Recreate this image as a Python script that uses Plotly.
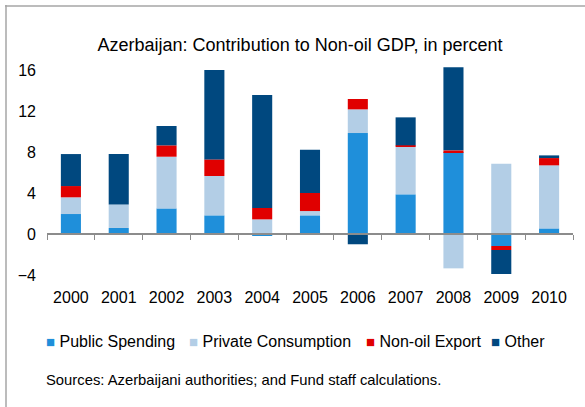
import plotly.graph_objects as go

years = ["2000", "2001", "2002", "2003", "2004", "2005", "2006", "2007", "2008", "2009", "2010"]
public_spending = [1.95, 0.59, 2.50, 1.82, -0.15, 1.82, 9.85, 3.87, 8.00, -1.17, 0.55]
private_consumption = [1.63, 2.30, 5.04, 3.84, 1.43, 0.42, 2.31, 4.65, -3.35, 6.86, 6.15]
non_oil_export = [1.10, 0.0, 1.11, 1.62, 1.11, 1.76, 1.01, 0.13, 0.16, -0.39, 0.71]
other = [3.12, 4.91, 1.89, 8.72, 11.02, 4.23, -1.00, 2.73, 8.10, -2.34, 0.26]
y_ticks = [-4, 0, 4, 8, 12, 16]

series = [
    ("Public Spending", public_spending, "#1F8FDA"),
    ("Private Consumption", private_consumption, "#B3CEE6"),
    ("Non-oil Export", non_oil_export, "#E00000"),
    ("Other", other, "#00487F"),
]

W, H = 585, 407
L, R, T, B = 47, 12, 62, 129
ymin, ymax = -4.29, 16.78
FONT = "Liberation Sans, Arial, sans-serif"

fig = go.Figure()
for name, vals, col in series:
    fig.add_trace(go.Bar(x=years, y=vals, name=name, marker_color=col,
                         marker_line_width=0, showlegend=False))

pw, ph = W - L - R, H - T - B
def px_x(p):
    return (p - L) / pw
def px_y(p):
    return (H - B - p) / ph

zero_pos = (0 - ymin) / (ymax - ymin)

fig.update_layout(
    width=W, height=H,
    margin=dict(l=L, r=R, t=T, b=B, autoexpand=False),
    barmode="relative",
    bargap=0.58,
    plot_bgcolor="white", paper_bgcolor="white",
    font=dict(family=FONT, color="#000000", size=15),
    title=dict(text="Azerbaijan: Contribution to Non-oil GDP, in percent",
               x=300 / W, xanchor="center", y=1 - 45 / H, yanchor="middle",
               font=dict(size=18, family=FONT, color="#000000")),
    xaxis=dict(type="category", anchor="free", position=zero_pos, automargin=False,
               showline=True, linecolor="#8C8C8C", linewidth=2,
               ticks="outside", tickson="boundaries", ticklen=5, tickcolor="#8C8C8C", tickwidth=1,
               ticklabelstandoff=49, tickfont=dict(size=16), showgrid=False,
               range=[-0.5, 10.5]),
    yaxis=dict(range=[ymin, ymax], tickvals=y_ticks, showgrid=False, zeroline=False, automargin=False,
               showline=False, ticks="", tickfont=dict(size=16), ticklabelstandoff=10),
)

# Legend built as annotations
legend_items = [(44, "Public Spending", "#1F8FDA"), (187, "Private Consumption", "#B3CEE6"),
                (364, "Non-oil Export", "#E00000"), (489, "Other", "#00487F")]
for xp, name, col in legend_items:
    fig.add_annotation(xref="paper", yref="paper", x=px_x(xp), y=px_y(341),
                       xanchor="left", yanchor="middle", showarrow=False,
                       text=f'<span style="color:{col};font-size:15px">■</span> {name}',
                       font=dict(size=16, family=FONT))

fig.add_annotation(xref="paper", yref="paper", x=px_x(44), y=px_y(380),
                   xanchor="left", yanchor="middle", showarrow=False,
                   text="Sources: Azerbaijani authorities; and Fund staff calculations.",
                   font=dict(size=14.8, family=FONT))

# outer frame (left and top edges visible)
fig.add_shape(type="line", xref="paper", yref="paper", x0=px_x(6), x1=px_x(6),
              y0=px_y(5), y1=px_y(410), line=dict(color="#A6A6A6", width=1.5))
fig.add_shape(type="line", xref="paper", yref="paper", x0=px_x(5), x1=px_x(590),
              y0=px_y(6), y1=px_y(6), line=dict(color="#A6A6A6", width=1.5))

fig.write_html("out.html", config={"displayModeBar": False},
               post_script="document.body.style.margin='0px';document.body.style.overflow='hidden';")
